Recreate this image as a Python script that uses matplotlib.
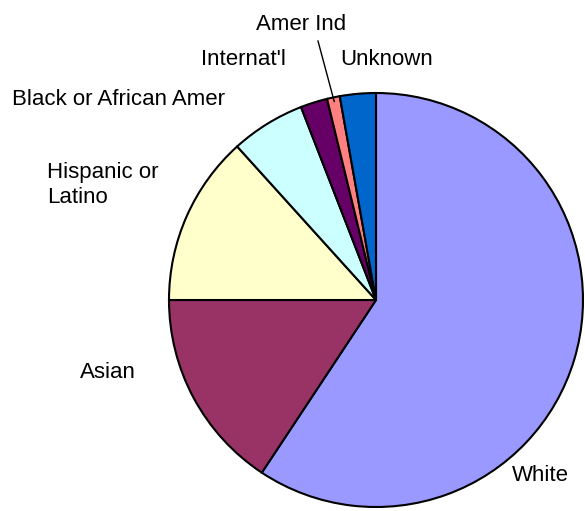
import numpy as np
import matplotlib
matplotlib.use("Agg")
import matplotlib.pyplot as plt

categories = ["White", "Asian", "Hispanic or\nLatino", "Black or African Amer",
              "Internat'l", "Amer Ind", "Unknown"]
values = [59.3, 15.7, 13.3, 5.8, 2.1, 1.0, 2.8]
colors = ["#9999FF", "#993366", "#FFFFCC", "#CCFFFF", "#660066", "#FF8080", "#0066CC"]

W, H = 585, 511
fig = plt.figure(figsize=(W / 100, H / 100), dpi=100)
ax = fig.add_axes([0, 0, 1, 1])

cx, cy, R = 376, H - 300, 207
wedges, _ = ax.pie(values, colors=colors, startangle=90, counterclock=False,
                   center=(cx, cy), radius=R, frame=True,
                   wedgeprops=dict(edgecolor="black", linewidth=1.5))
ax.set_xlim(0, W)
ax.set_ylim(0, H)
ax.set_aspect("equal")
ax.axis("off")

# label positions (left x, baseline y in pixel coords from top)
label_pos = [(512, 481), (80, 378), (47, 203), (12, 105), (201, 65), (256, 30), (340, 65)]
font = dict(family=["Liberation Sans", "DejaVu Sans"], fontsize=16, color="black")
for lab, (px, py) in zip(categories, label_pos):
    ax.text(px, H - py, lab, ha="left", va="baseline", linespacing=1.24,
            multialignment="left", **font)

# leader line for Amer Ind
w = wedges[5]
mid = np.deg2rad((w.theta1 + w.theta2) / 2)
ex, ey = cx + 0.98 * R * np.cos(mid), cy + 0.98 * R * np.sin(mid)
ax.plot([318, ex], [H - 41, ey], color="black", linewidth=1.0)

fig.savefig("out.png", dpi=100)
